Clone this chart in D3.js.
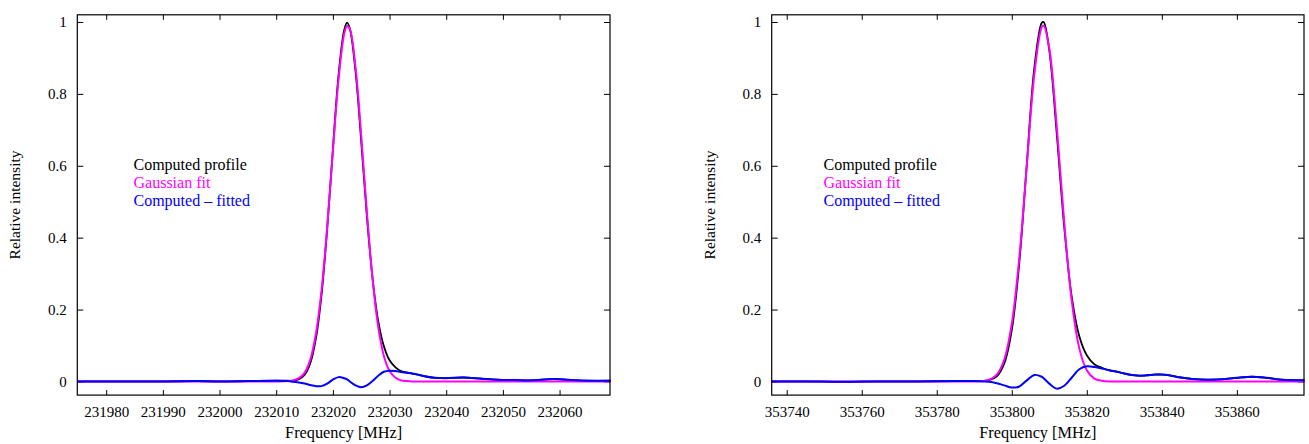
<!DOCTYPE html>
<html>
<head>
<meta charset="utf-8">
<script src="https://cdn.jsdelivr.net/npm/d3@7"></script>
<style>
  body { margin: 0; background: #fff; }
</style>
</head>
<body>
<script>
let width = 1309;
let height = 444;
let serif = "'Liberation Serif', 'Times New Roman', Times, 'DejaVu Serif', serif";

// left panel: line near 232022 MHz
let freqLeft = [231975, 231980, 231985, 231990, 231996, 232000, 232005, 232010,
  232012, 232013, 232014, 232015, 232016, 232017, 232018, 232019, 232020, 232021,
  232022, 232022.5, 232023, 232024, 232025, 232026, 232027, 232028, 232029, 232030,
  232031, 232032, 232033, 232034, 232035, 232036, 232038, 232040, 232043, 232046,
  232049, 232052, 232055, 232059, 232062, 232065, 232069];
let computedLeft = [0, 0, 0, 0, 0.001, 0, 0.001, 0.002,
  0.002, 0.002, 0.006, 0.018, 0.050, 0.119, 0.241, 0.425, 0.646, 0.852,
  0.978, 0.998, 0.981, 0.862, 0.668, 0.460, 0.287, 0.168, 0.098, 0.059,
  0.040, 0.029, 0.025, 0.022, 0.019, 0.015, 0.010, 0.009, 0.011, 0.008,
  0.005, 0.004, 0.003, 0.007, 0.004, 0.002, 0.002];
let gaussLeft = [0, 0, 0, 0, 0, 0, 0, 0,
  0.001, 0.003, 0.009, 0.024, 0.060, 0.132, 0.254, 0.431, 0.641, 0.840,
  0.967, 0.989, 0.980, 0.873, 0.684, 0.471, 0.286, 0.152, 0.071, 0.029,
  0.011, 0.003, 0.001, 0, 0, 0, 0, 0, 0, 0,
  0, 0, 0, 0, 0, 0, 0];
let residLeft = [0, 0, 0, 0, 0.001, 0, 0.001, 0.002,
  0.001, -0.001, -0.003, -0.006, -0.010, -0.013, -0.013, -0.006, 0.005, 0.012,
  0.009, 0.006, 0.000, -0.011, -0.016, -0.011, 0.001, 0.016, 0.027, 0.030,
  0.029, 0.026, 0.024, 0.022, 0.019, 0.015, 0.010, 0.009, 0.011, 0.008,
  0.005, 0.004, 0.003, 0.007, 0.004, 0.002, 0.002];
let ticksLeft = [231980, 231990, 232000, 232010, 232020, 232030, 232040, 232050, 232060];

// right panel: line near 353808 MHz
let freqRight = [353736, 353745, 353755, 353765, 353775, 353785, 353790, 353792,
  353794, 353796, 353798, 353800, 353802, 353804, 353806, 353808, 353808.5, 353810,
  353812, 353814, 353816, 353818, 353820, 353822, 353824, 353826, 353828, 353830,
  353832, 353834, 353836, 353838, 353840, 353842, 353845, 353848, 353852, 353856,
  353860, 353864, 353868, 353872, 353878];
let computedRight = [0, 0, -0.001, 0, 0, 0.001, 0.001, 0.001,
  0.004, 0.014, 0.050, 0.143, 0.330, 0.603, 0.871, 0.998, 1.000, 0.921,
  0.688, 0.428, 0.234, 0.126, 0.073, 0.048, 0.038, 0.031, 0.027, 0.022,
  0.018, 0.016, 0.017, 0.019, 0.019, 0.017, 0.011, 0.007, 0.005, 0.006,
  0.010, 0.013, 0.010, 0.005, 0.003];
let gaussRight = [0, 0, 0, 0, 0, 0, 0, 0.001,
  0.005, 0.019, 0.061, 0.160, 0.344, 0.600, 0.853, 0.986, 0.990, 0.927,
  0.708, 0.440, 0.223, 0.092, 0.031, 0.008, 0.002, 0, 0, 0,
  0, 0, 0, 0, 0, 0, 0, 0, 0, 0,
  0, 0, 0, 0, 0];
let residRight = [0, 0, -0.001, 0, 0, 0.001, 0.001, 0,
  -0.001, -0.005, -0.011, -0.017, -0.014, 0.003, 0.018, 0.013, 0.009, -0.006,
  -0.020, -0.012, 0.011, 0.034, 0.042, 0.040, 0.036, 0.031, 0.027, 0.022,
  0.018, 0.016, 0.017, 0.019, 0.019, 0.017, 0.011, 0.007, 0.005, 0.006,
  0.010, 0.013, 0.010, 0.005, 0.003];
let ticksRight = [353740, 353760, 353780, 353800, 353820, 353840, 353860];

let yTicks = [0, 0.2, 0.4, 0.6, 0.8, 1];
let legendLabels = ["Computed profile", "Gaussian fit", "Computed \u2013 fitted"];
let colors = ["#000000", "#ff00ff", "#0000ff"];

let svg = d3
  .select("body")
  .append("svg")
  .attr("width", width)
  .attr("height", height);

let drawPanel = (p) => {
  let x = d3.scaleLinear().domain(p.xDomain).range([p.left, p.right]);
  let y = d3.scaleLinear().domain([-0.038, 1.02]).range([395.1, 14.8]);

  let g = svg.append("g");

  // ticks inward on all four sides, labels only bottom and left
  g.append("g")
    .attr("transform", `translate(0,${y.range()[0]})`)
    .call(d3.axisBottom(x).tickValues(p.ticks).tickSize(-5).tickPadding(11).tickFormat(d3.format("d")));
  g.append("g")
    .attr("transform", `translate(0,${y.range()[1]})`)
    .call(d3.axisTop(x).tickValues(p.ticks).tickSize(-5).tickFormat(""));
  g.append("g")
    .attr("transform", `translate(${p.left},0)`)
    .call(d3.axisLeft(y).tickValues(yTicks).tickSize(-6).tickPadding(10.5).tickFormat((d) => String(d)));
  g.append("g")
    .attr("transform", `translate(${p.right},0)`)
    .call(d3.axisRight(y).tickValues(yTicks).tickSize(-6).tickFormat(""));

  g.selectAll(".domain").remove();
  g.selectAll(".tick line").attr("stroke", "#000").attr("stroke-width", 1);
  g.selectAll(".tick text")
    .attr("fill", "#000")
    .style("font-family", serif)
    .style("font-size", "15px");

  let line = d3
    .line()
    .x((d) => x(d[0]))
    .y((d) => y(d[1]))
    .curve(d3.curveCatmullRom.alpha(0.5));

  let series = [p.computed, p.gauss, p.resid];
  series.forEach((vals, i) => {
    g.append("path")
      .datum(p.freq.map((f, j) => [f, vals[j]]))
      .attr("fill", "none")
      .attr("stroke", colors[i])
      .attr("stroke-width", i === 0 ? 1.8 : 2)
      .attr("stroke-linejoin", "round")
      .attr("d", line);
  });

  g.append("rect")
    .attr("x", p.left)
    .attr("y", y.range()[1])
    .attr("width", p.right - p.left)
    .attr("height", y.range()[0] - y.range()[1])
    .attr("fill", "none")
    .attr("stroke", "#000")
    .attr("stroke-width", 1.2);

  legendLabels.forEach((t, i) => {
    g.append("text")
      .attr("x", p.legendX)
      .attr("y", 170 + i * 18)
      .attr("fill", colors[i])
      .style("font-family", serif)
      .style("font-size", "16px")
      .text(t);
  });

  g.append("text")
    .attr("x", (p.left + p.right) / 2)
    .attr("y", 438)
    .attr("text-anchor", "middle")
    .style("font-family", serif)
    .style("font-size", "16.3px")
    .text("Frequency [MHz]");

  g.append("text")
    .attr("transform", `translate(${p.yLabelX},${(y.range()[0] + y.range()[1]) / 2}) rotate(-90)`)
    .attr("text-anchor", "middle")
    .style("font-family", serif)
    .style("font-size", "15.5px")
    .text("Relative intensity");
};

drawPanel({
  freq: freqLeft, computed: computedLeft, gauss: gaussLeft, resid: residLeft,
  ticks: ticksLeft, xDomain: [231974.9, 232068.9],
  left: 77.3, right: 610, legendX: 133.5, yLabelX: 20
});

drawPanel({
  freq: freqRight, computed: computedRight, gauss: gaussRight, resid: residRight,
  ticks: ticksRight, xDomain: [353736.0, 353877.9],
  left: 771.7, right: 1304, legendX: 823.5, yLabelX: 714.5
});
</script>
</body>
</html>
